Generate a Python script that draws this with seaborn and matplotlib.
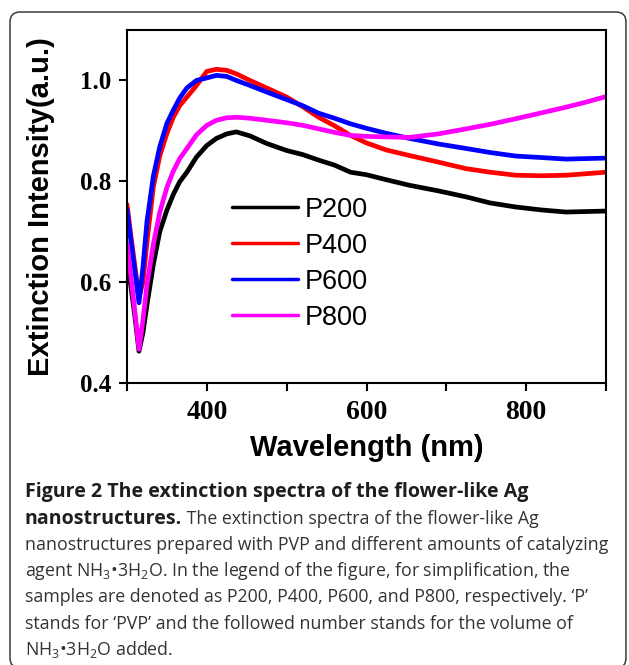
import numpy as np
import pandas as pd
import matplotlib
matplotlib.use("Agg")
import matplotlib.pyplot as plt
import seaborn as sns
from matplotlib.lines import Line2D
from matplotlib.patches import FancyBboxPatch

# ---------------- data ----------------
wavelength = [300, 305, 310, 315, 320, 325, 333, 341, 350, 358, 366, 375, 387,
              400, 412, 425, 437, 454, 475, 500, 520, 540, 560, 580, 600, 625,
              654, 690, 725, 755, 787, 820, 850, 875, 900]
p200 = [0.645, 0.590, 0.530, 0.463, 0.500, 0.555, 0.635, 0.700, 0.743, 0.774,
        0.799, 0.818, 0.848, 0.871, 0.885, 0.894, 0.898, 0.890, 0.875, 0.861,
        0.853, 0.842, 0.832, 0.818, 0.813, 0.803, 0.792, 0.781, 0.769, 0.757,
        0.749, 0.743, 0.739, 0.740, 0.741]
p400 = [0.754, 0.690, 0.630, 0.570, 0.600, 0.680, 0.789, 0.850, 0.895, 0.927,
        0.950, 0.967, 0.990, 1.018, 1.022, 1.020, 1.013, 1.000, 0.985, 0.967,
        0.948, 0.927, 0.910, 0.891, 0.876, 0.862, 0.851, 0.838, 0.825, 0.818,
        0.812, 0.811, 0.812, 0.815, 0.818]
p600 = [0.744, 0.680, 0.620, 0.559, 0.630, 0.720, 0.810, 0.868, 0.915, 0.941,
        0.965, 0.985, 1.000, 1.005, 1.010, 1.008, 1.000, 0.990, 0.977, 0.962,
        0.950, 0.935, 0.925, 0.914, 0.905, 0.895, 0.885, 0.874, 0.865, 0.857,
        0.850, 0.847, 0.844, 0.845, 0.846]
p800 = [0.677, 0.610, 0.540, 0.467, 0.525, 0.595, 0.675, 0.738, 0.788, 0.820,
        0.845, 0.865, 0.892, 0.911, 0.921, 0.926, 0.927, 0.925, 0.921, 0.916,
        0.911, 0.904, 0.897, 0.891, 0.889, 0.888, 0.887, 0.894, 0.904, 0.913,
        0.924, 0.936, 0.947, 0.957, 0.968]

samples = ["P200", "P400", "P600", "P800"]
colors = ["#000000", "#ff0000", "#0000ff", "#ff00ff"]

x_major_ticks = [400, 600, 800]
x_minor_ticks = [300, 500, 700, 900]
y_ticks = [0.4, 0.6, 0.8, 1.0]
y_tick_labels = ["0.4", "0.6", "0.8", "1.0"]
x_label = "Wavelength (nm)"
y_label = "Extinction Intensity(a.u.)"

caption_line1_bold = "Figure 2 The extinction spectra of the flower-like Ag"
caption_line2_bold = "nanostructures."
caption_line2_regular = " The extinction spectra of the flower-like Ag"
caption_regular_lines = [
    "nanostructures prepared with PVP and different amounts of catalyzing",
    "agent NH$_3$\u20223H$_2$O. In the legend of the figure, for simplification, the",
    "samples are denoted as P200, P400, P600, and P800, respectively. \u2018P\u2019",
    "stands for \u2018PVP\u2019 and the followed number stands for the volume of",
    "NH$_3$\u20223H$_2$O added.",
]

# ---------------- style ----------------
sns.set_theme(style="ticks")
plt.rcParams.update({
    "font.family": ["Liberation Sans", "DejaVu Sans"],
    "mathtext.fontset": "custom",
    "mathtext.rm": "Open Sans",
    "mathtext.it": "Open Sans:italic",
    "mathtext.bf": "Open Sans:bold",
    "mathtext.default": "regular",
    "axes.linewidth": 1.5,
    "axes.edgecolor": "black",
    "text.color": "black",
    "axes.labelcolor": "black",
    "xtick.color": "black",
    "ytick.color": "black",
    "xtick.labelcolor": "black",
    "ytick.labelcolor": "black",
})

W, H = 629, 665
fig = plt.figure(figsize=(W / 100, H / 100), dpi=100)
fig.patch.set_facecolor("white")

ax_l, ax_r, ax_t, ax_b = 127, 606, 30, 383
ax = fig.add_axes([ax_l / W, 1 - ax_b / H, (ax_r - ax_l) / W, (ax_b - ax_t) / H])

df = pd.DataFrame({
    "Wavelength": wavelength * len(samples),
    "Intensity": p200 + p400 + p600 + p800,
    "Sample": np.repeat(samples, len(wavelength)),
})

sns.lineplot(data=df, x="Wavelength", y="Intensity", hue="Sample",
             hue_order=samples, palette=colors, linewidth=3.4,
             estimator=None, sort=False, legend=False, ax=ax)

ax.set_xlim(300, 900)
ax.set_ylim(0.4, 1.1)
ax.set_xticks(x_major_ticks)
ax.set_xticks(x_minor_ticks, minor=True)
ax.set_xticklabels([str(t) for t in x_major_ticks])
ax.set_yticks(y_ticks)
ax.set_yticklabels(y_tick_labels)

for sp in ax.spines.values():
    sp.set_visible(True)
    sp.set_linewidth(1.5)
    sp.set_color("black")

ax.tick_params(axis="both", which="both", direction="out", length=5.8,
               width=1.5, color="black", labelcolor="black", top=False, right=False)
ax.tick_params(axis="x", which="major", pad=6.5)
ax.tick_params(axis="y", which="major", pad=5.5)
for lab in ax.get_xticklabels():
    lab.set_fontfamily("Liberation Serif")
    lab.set_fontweight("bold")
    lab.set_fontsize(20)
    lab.set_color("black")
for lab in ax.get_yticklabels():
    lab.set_fontfamily("Liberation Serif")
    lab.set_fontweight("bold")
    lab.set_fontsize(18)
    lab.set_color("black")

ax.set_xlabel(x_label, fontsize=21, fontweight="bold", family="Liberation Sans", color="black")
ax.set_ylabel(y_label, fontsize=21, fontweight="bold", family="Liberation Sans", color="black")
ax.xaxis.set_label_coords(0.5, -0.144)
ax.yaxis.set_label_coords(-0.15, 0.5)
ax.grid(False)

# legend
handles = [Line2D([], [], color=c, lw=2.5, solid_capstyle="round") for c in colors]
leg = ax.legend(handles, samples, loc="upper left",
                bbox_to_anchor=(231.7 / W, 1 - 196.8 / H), bbox_transform=fig.transFigure,
                frameon=False, borderpad=0, borderaxespad=0, handlelength=2.46,
                handletextpad=0.25, labelspacing=0.37,
                prop={"family": "Liberation Sans", "size": 19.5})
for t in leg.get_texts():
    t.set_color("black")

# ---------------- caption ----------------
cap_x = 25 / W
cap_size = 12.8
cap_bold_size = 14.1
baselines = [497.2 + 26.3 * i for i in range(7)]
bold_col = "#1e1e1e"
reg_col = "#333333"

fig.text(cap_x, 1 - baselines[0] / H, caption_line1_bold, family="Open Sans",
         fontweight="bold", fontsize=cap_bold_size, color=bold_col, va="baseline", ha="left")
t2 = fig.text(cap_x, 1 - baselines[1] / H, caption_line2_bold, family="Open Sans",
              fontweight="bold", fontsize=cap_bold_size, color=bold_col, va="baseline", ha="left")
fig.canvas.draw()
renderer = fig.canvas.get_renderer()
bb = t2.get_window_extent(renderer=renderer)
fig.text(bb.x1 / W, 1 - baselines[1] / H, caption_line2_regular, family="Open Sans",
         fontsize=cap_size, color=reg_col, va="baseline", ha="left")
for i, line in enumerate(caption_regular_lines):
    fig.text(cap_x, 1 - baselines[i + 2] / H, line, family="Open Sans",
             fontsize=cap_size, color=reg_col, va="baseline", ha="left")

# rounded outer frame
frame = FancyBboxPatch((10 / 100, (H - 668) / 100), (626 - 10) / 100, (668 - 12) / 100,
                       boxstyle="round,pad=0,rounding_size=0.1",
                       transform=fig.dpi_scale_trans, fill=False,
                       edgecolor="#3c3c3c", linewidth=1.1, clip_on=False)
fig.patches.append(frame)

fig.savefig("out.png", dpi=100)
